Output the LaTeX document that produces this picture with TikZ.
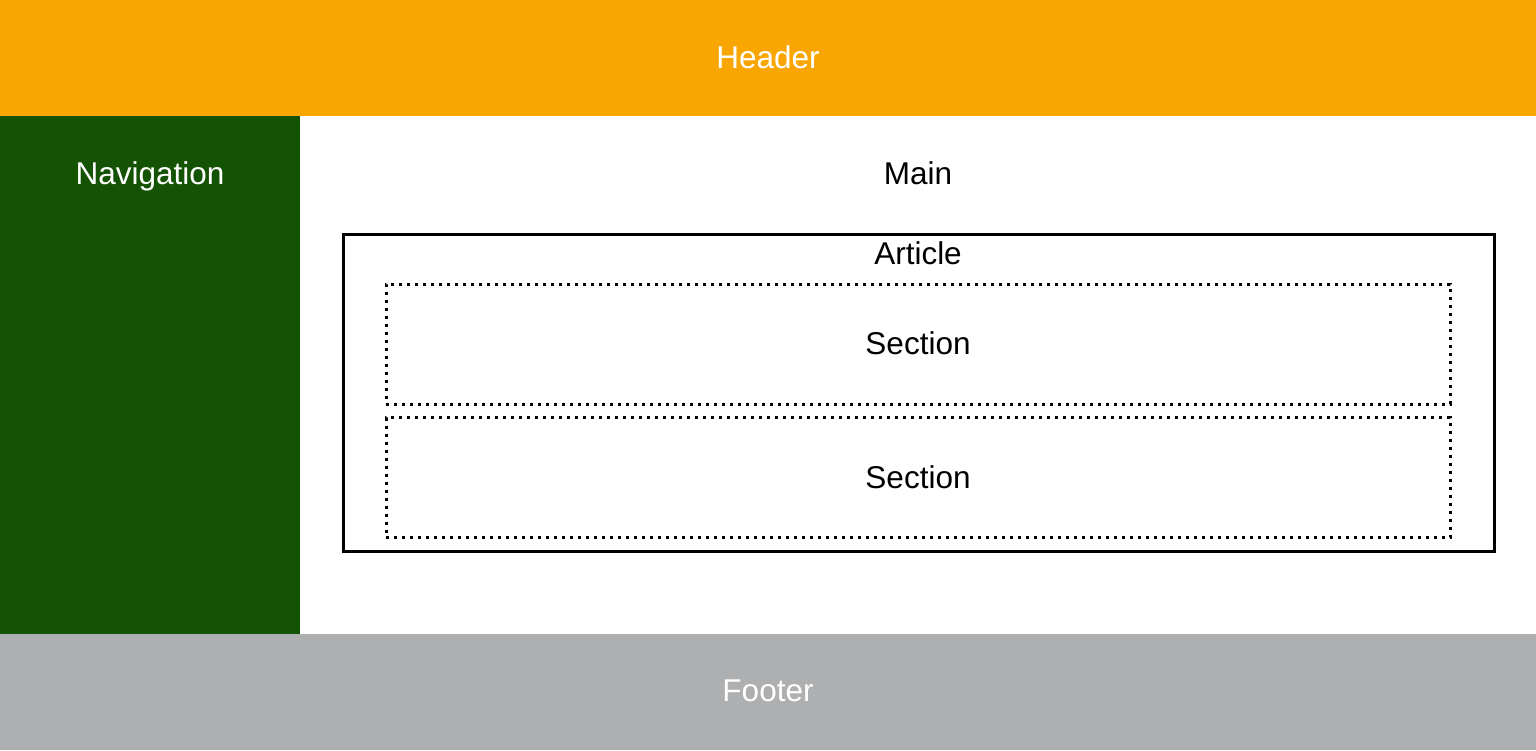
\documentclass[tikz,border=0pt]{standalone}
\usepackage{fontspec}
\setmainfont{Liberation Sans}
\definecolor{hdr}{HTML}{F9A603}
\definecolor{nav}{HTML}{155304}
\definecolor{ftr}{HTML}{ADAFB1}
\begin{document}
\begin{tikzpicture}[x=1pt,y=-1pt,
  band/.style={rectangle,draw=none,inner sep=0pt,outer sep=0pt,anchor=north west},
  lbl/.style={anchor=base,inner sep=0pt,font=\fontsize{31.5}{38}\selectfont},
  wlbl/.style={lbl,text=white},
  articlebox/.style={draw=black,line width=3pt,rectangle,inner sep=0pt,outer sep=0pt,anchor=north west},
  sectionbox/.style={draw=black,line width=3pt,dash pattern=on 3pt off 5pt,rectangle,inner sep=0pt,outer sep=0pt,anchor=north west}]
\useasboundingbox (0,0) rectangle (1536,750);
\fill[white] (0,0) rectangle (1536,750);
\node[band,fill=hdr,minimum width=1536pt,minimum height=116pt] (header) at (0,0) {};
\node[band,fill=nav,minimum width=300pt,minimum height=518pt] (navbox) at (0,116) {};
\node[band,fill=white,minimum width=1236pt,minimum height=518pt] (mainbox) at (300,116) {};
\node[band,fill=ftr,minimum width=1536pt,minimum height=116pt] (footer) at (0,634) {};
\node[articlebox,minimum width=1151pt,minimum height=317pt] (article) at (343,234.5) {};
\node[sectionbox,minimum width=1064pt,minimum height=120pt] (sec1) at (386,284) {};
\node[sectionbox,minimum width=1064pt,minimum height=120pt] (sec2) at (386,417.5) {};
\node[wlbl] (theader) at (768,68) {Header};
\node[wlbl] (tnav) at (150,184) {Navigation};
\node[lbl] (tmain) at (918,184) {Main};
\node[lbl] (tarticle) at (918,264) {Article};
\node[lbl] (tsec1) at (918,354) {Section};
\node[lbl] (tsec2) at (918,488) {Section};
\node[wlbl] (tfooter) at (768,701) {Footer};
\end{tikzpicture}
\end{document}
